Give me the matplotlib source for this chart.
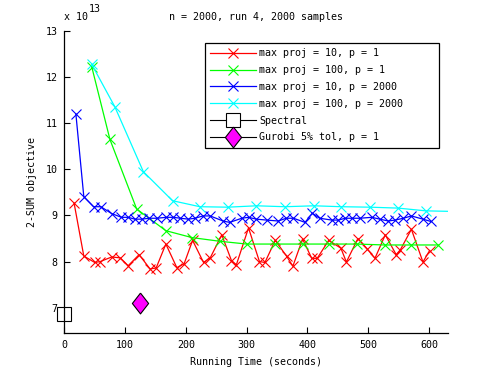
import matplotlib
matplotlib.use("Agg")
from matplotlib import pyplot as plt

# values, y in units of 1e13
red_x = [16, 32, 50, 59, 78, 92, 105, 123, 141, 151, 167, 185, 197, 211, 229, 240, 259, 275, 283, 303,
         321, 330, 347, 366, 376, 392, 407, 416, 435, 455, 464, 483, 498, 511, 528, 546, 553, 571, 590, 601]
red_y = [9.27, 8.12, 7.98, 8.0, 8.10, 8.08, 7.91, 8.15, 7.84, 7.86, 8.38, 7.87, 7.95, 8.46, 7.98, 8.08, 8.58, 8.02, 7.93, 8.73,
         8.0, 7.98, 8.46, 8.11, 7.90, 8.49, 8.07, 8.07, 8.46, 8.29, 7.99, 8.50, 8.28, 8.07, 8.58, 8.15, 8.26, 8.70, 7.99, 8.24]

green_x = [45, 75, 119, 167, 210, 256, 300, 346, 392, 436, 481, 527, 571, 615]
green_y = [12.23, 10.65, 9.14, 8.67, 8.52, 8.44, 8.38, 8.38, 8.38, 8.38, 8.38, 8.36, 8.36, 8.36]

blue_x = [19, 32, 48, 60, 78, 94, 105, 116, 127, 140, 152, 168, 179, 191, 204, 215, 228, 240, 261, 272, 292, 303,
          316, 333, 352, 365, 377, 396, 408, 420, 440, 451, 462, 474, 486, 506, 519, 533, 544, 558, 571, 590, 603]
blue_y = [11.2, 9.41, 9.19, 9.19, 9.04, 8.96, 8.96, 8.92, 8.92, 8.94, 8.94, 8.96, 8.96, 8.94, 8.92, 8.94, 8.99, 8.99, 8.88, 8.85, 8.94, 8.96,
          8.92, 8.90, 8.88, 8.94, 8.94, 8.85, 9.05, 8.94, 8.90, 8.90, 8.94, 8.94, 8.94, 8.96, 8.92, 8.88, 8.90, 8.94, 8.99, 8.92, 8.87]

cyan_x = [45, 83, 130, 178, 223, 269, 316, 363, 411, 456, 503, 549, 595, 632]
cyan_y = [12.28, 11.36, 9.95, 9.32, 9.19, 9.18, 9.21, 9.19, 9.21, 9.19, 9.18, 9.16, 9.10, 9.09]

spectral_x = [0]
spectral_y = [6.87]
gurobi_x = [124]
gurobi_y = [7.11]

labels = ["max proj = 10, p = 1", "max proj = 100, p = 1", "max proj = 10, p = 2000",
          "max proj = 100, p = 2000     ", "Spectral", "Gurobi 5% tol, p = 1"]

plt.rcParams['font.family'] = ['DejaVu Sans Mono']
plt.rcParams['font.size'] = 7.2

fig = plt.figure(figsize=(4.95, 3.75), dpi=100)
ax = fig.add_axes([0.13, 0.112, 0.776, 0.805])

ax.plot(red_x, red_y, '-x', color='red', lw=0.9, ms=7.5, mew=0.8, label=labels[0])
ax.plot(green_x, green_y, '-x', color='lime', lw=0.9, ms=7.5, mew=0.8, label=labels[1])
ax.plot(blue_x, blue_y, '-x', color='blue', lw=0.9, ms=7.5, mew=0.8, label=labels[2])
ax.plot(cyan_x, cyan_y, '-x', color='cyan', lw=0.9, ms=7.5, mew=0.8,
        markevery=list(range(len(cyan_x) - 1)), label=labels[3])
ax.plot(spectral_x, spectral_y, '-s', color='black', mfc='white', mec='black', ms=10, mew=0.8,
        lw=0.8, clip_on=False, label=labels[4])
diamond = [(0, 1), (0.78, 0), (0, -1), (-0.78, 0), (0, 1)]
ax.plot(gurobi_x, gurobi_y, '-', marker=diamond, color='black', mfc='magenta', mec='black', ms=15,
        mew=0.8, lw=0.8, label=labels[5])

ax.set_xlim(0, 632)
ax.set_ylim(6.45, 13)
ax.set_xticks([0, 100, 200, 300, 400, 500, 600])
ax.set_yticks([7, 8, 9, 10, 11, 12, 13])
ax.set_yticklabels(['7', '8', '9', '10', '11', '12', '13'])
ax.spines['top'].set_visible(False)
ax.spines['right'].set_visible(False)
for s in ['left', 'bottom']:
    ax.spines[s].set_linewidth(0.9)
ax.tick_params(direction='in', length=4, width=0.8, pad=5)

ax.set_title('n = 2000, run 4, 2000 samples', fontsize=7.2, pad=8)
ax.set_xlabel('Running Time (seconds)', labelpad=5)
ax.set_ylabel('2-SUM objective', labelpad=6)
fig.text(64 / 495, 1 - 17 / 375, 'x 10', ha='left', va='center', fontsize=7.2)
fig.text(89 / 495, 1 - 9 / 375, '13', ha='left', va='center', fontsize=7.2)

leg = ax.legend(loc='upper right', bbox_to_anchor=(0.975, 0.961), borderaxespad=0,
                fancybox=False, framealpha=1, edgecolor='black', handlelength=4.6,
                handletextpad=0.3, labelspacing=0.68, borderpad=0.55)
leg.get_frame().set_linewidth(0.9)

fig.savefig('out.png', dpi=100)
